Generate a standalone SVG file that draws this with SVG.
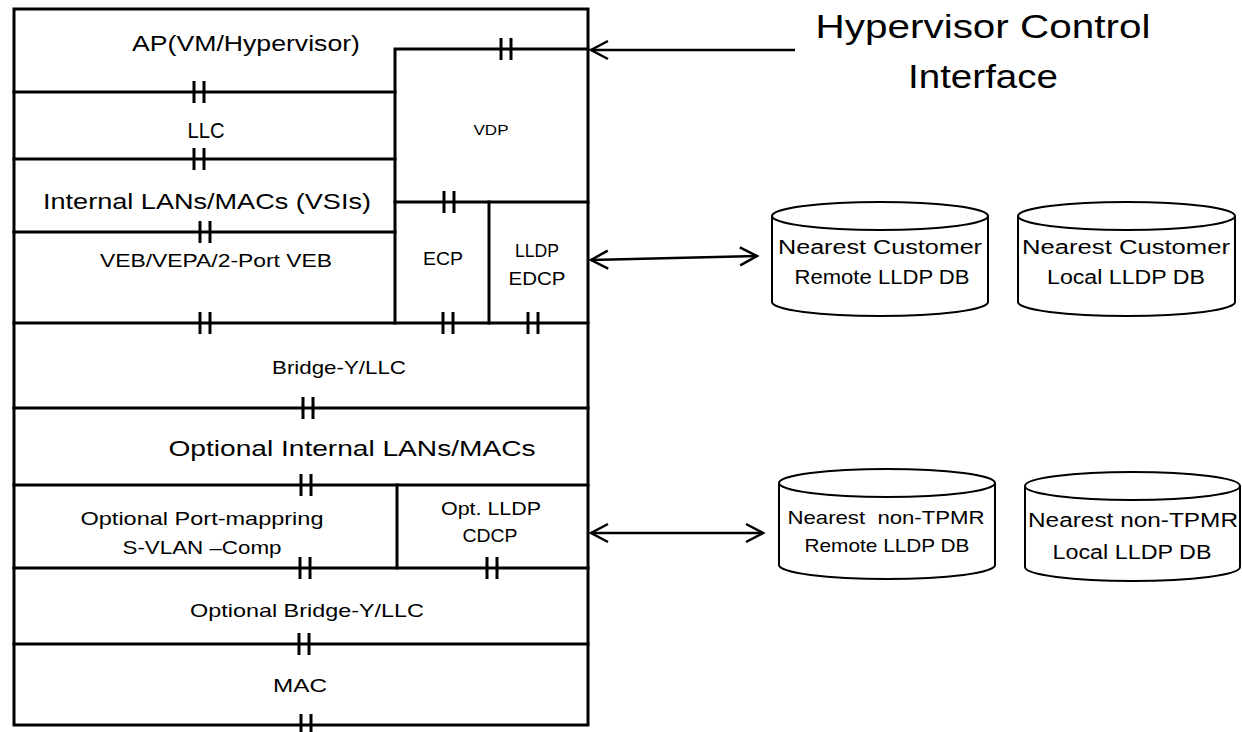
<svg xmlns="http://www.w3.org/2000/svg" xmlns:xlink="http://www.w3.org/1999/xlink" width="1242" height="732" viewBox="0 0 1242 732">
<style>
.ln{stroke:#000;stroke-width:3;fill:none;stroke-linecap:square}
.thin{stroke:#000;stroke-width:2.5;fill:none}
.cyl{stroke:#000;stroke-width:2;fill:#fff}
.t{font-family:"Liberation Sans","DejaVu Sans",Arial,sans-serif;fill:#000;text-anchor:middle}
.big{font-size:22px}
.mid{font-size:19px}
.sm{font-size:15px}
.db{font-size:20px}
.hv{font-size:33px}
.arr{stroke:#000;stroke-width:2.5;fill:none}
</style>
<defs>
<marker id="open" viewBox="-20 -12 24 24" refX="0" refY="0" markerWidth="24" markerHeight="24" markerUnits="userSpaceOnUse" orient="auto-start-reverse" overflow="visible">
<path d="M -17 -9 L 0 0 L -17 9" fill="none" stroke="#000" stroke-width="2.5"/>
</marker>
<g id="tick"><line x1="-5" y1="-11" x2="-5" y2="11" stroke="#000" stroke-width="3"/><line x1="5" y1="-11" x2="5" y2="11" stroke="#000" stroke-width="3"/></g>
</defs>
<rect width="1242" height="732" fill="#fff"/>

<g id="frame">
<rect class="ln" x="14" y="9" width="574" height="716"/>
<line class="ln" x1="14" y1="92" x2="395" y2="92"/>
<line class="ln" x1="14" y1="159" x2="395" y2="159"/>
<line class="ln" x1="14" y1="232" x2="395" y2="232"/>
<polyline class="ln" points="588,49 395,49 395,323"/>
<line class="ln" x1="395" y1="202" x2="588" y2="202"/>
<line class="ln" x1="489" y1="202" x2="489" y2="323"/>
<line class="ln" x1="14" y1="323" x2="588" y2="323"/>
<line class="ln" x1="14" y1="408" x2="588" y2="408"/>
<line class="ln" x1="14" y1="485" x2="588" y2="485"/>
<line class="ln" x1="397" y1="485" x2="397" y2="568"/>
<line class="ln" x1="14" y1="568" x2="588" y2="568"/>
<line class="ln" x1="14" y1="644" x2="588" y2="644"/>
</g>

<g id="ap"><text class="t big" x="246" y="51" textLength="228" lengthAdjust="spacingAndGlyphs">AP(VM/Hypervisor)</text></g>
<g id="llc"><text class="t big" x="206" y="138" textLength="37" lengthAdjust="spacingAndGlyphs">LLC</text></g>
<g id="vdp"><text class="t sm" x="491" y="135" textLength="35" lengthAdjust="spacingAndGlyphs">VDP</text></g>
<g id="internal"><text class="t big" x="207" y="209" textLength="328" lengthAdjust="spacingAndGlyphs">Internal LANs/MACs (VSIs)</text></g>
<g id="ecp"><text class="t mid" x="443" y="265" textLength="40" lengthAdjust="spacingAndGlyphs">ECP</text></g>
<g id="lldp-edcp"><text class="t mid" x="537" y="257" textLength="44" lengthAdjust="spacingAndGlyphs">LLDP</text><text class="t mid" x="537" y="285" textLength="57" lengthAdjust="spacingAndGlyphs">EDCP</text></g>
<g id="veb"><text class="t mid" x="216" y="267" textLength="232" lengthAdjust="spacingAndGlyphs">VEB/VEPA/2-Port VEB</text></g>
<g id="bridge"><text class="t mid" x="339" y="374" textLength="134" lengthAdjust="spacingAndGlyphs">Bridge-Y/LLC</text></g>
<g id="opt-internal"><text class="t big" x="352" y="456" textLength="367" lengthAdjust="spacingAndGlyphs">Optional Internal LANs/MACs</text></g>
<g id="port-mapping"><text class="t mid" x="202" y="525" textLength="243" lengthAdjust="spacingAndGlyphs">Optional Port-mappring</text><text class="t mid" x="202" y="554" textLength="159" lengthAdjust="spacingAndGlyphs">S-VLAN –Comp</text></g>
<g id="opt-lldp"><text class="t mid" x="491" y="515" textLength="100" lengthAdjust="spacingAndGlyphs">Opt. LLDP</text><text class="t mid" x="490" y="542" textLength="55" lengthAdjust="spacingAndGlyphs">CDCP</text></g>
<g id="opt-bridge"><text class="t mid" x="307" y="617" textLength="234" lengthAdjust="spacingAndGlyphs">Optional Bridge-Y/LLC</text></g>
<g id="mac"><text class="t mid" x="300" y="692" textLength="54" lengthAdjust="spacingAndGlyphs">MAC</text></g>

<g id="hypervisor-ctrl"><text class="t hv" x="983" y="38" textLength="335" lengthAdjust="spacingAndGlyphs">Hypervisor Control</text><text class="t hv" x="983" y="88" textLength="150" lengthAdjust="spacingAndGlyphs">Interface</text></g>

<g id="db-cust-remote">
<path class="cyl" d="M772 216 L772 302 A108 14 0 0 0 988 302 L988 216"/>
<ellipse class="cyl" cx="880" cy="216" rx="108" ry="14"/>
<text class="t db" x="880" y="254" textLength="204" lengthAdjust="spacingAndGlyphs">Nearest Customer</text>
<text class="t db" x="882" y="284" textLength="175" lengthAdjust="spacingAndGlyphs">Remote LLDP DB</text>
</g>
<g id="db-cust-local">
<path class="cyl" d="M1018 216 L1018 302 A108.5 14 0 0 0 1235 302 L1235 216"/>
<ellipse class="cyl" cx="1126.5" cy="216" rx="108.5" ry="14"/>
<text class="t db" x="1126" y="254" textLength="208" lengthAdjust="spacingAndGlyphs">Nearest Customer</text>
<text class="t db" x="1126" y="284" textLength="158" lengthAdjust="spacingAndGlyphs">Local LLDP DB</text>
</g>
<g id="db-tpmr-remote">
<path class="cyl" d="M779 483 L779 565 A108 14 0 0 0 995 565 L995 483"/>
<ellipse class="cyl" cx="887" cy="483" rx="108" ry="14"/>
<text class="t mid" x="886" y="524" textLength="197" lengthAdjust="spacingAndGlyphs" xml:space="preserve">Nearest  non-TPMR</text>
<text class="t mid" x="887" y="552" textLength="165" lengthAdjust="spacingAndGlyphs">Remote LLDP DB</text>
</g>
<g id="db-tpmr-local">
<path class="cyl" d="M1025 486 L1025 567 A107.5 14 0 0 0 1240 567 L1240 486"/>
<ellipse class="cyl" cx="1132.5" cy="486" rx="107.5" ry="14"/>
<text class="t db" x="1133" y="527" textLength="210" lengthAdjust="spacingAndGlyphs">Nearest non-TPMR</text>
<text class="t db" x="1132" y="559" textLength="159" lengthAdjust="spacingAndGlyphs">Local LLDP DB</text>
</g>

<g id="connectors">
<line class="arr" x1="795" y1="50" x2="591" y2="50" marker-end="url(#open)"/>
<line class="arr" x1="591" y1="260" x2="757" y2="256" marker-start="url(#open)" marker-end="url(#open)"/>
<line class="arr" x1="591" y1="533" x2="763" y2="533" marker-start="url(#open)" marker-end="url(#open)"/>
<use xlink:href="#tick" x="199" y="92"/>
<use xlink:href="#tick" x="199" y="159"/>
<use xlink:href="#tick" x="205" y="232"/>
<use xlink:href="#tick" x="506" y="49"/>
<use xlink:href="#tick" x="449" y="202"/>
<use xlink:href="#tick" x="205" y="323"/>
<use xlink:href="#tick" x="448" y="323"/>
<use xlink:href="#tick" x="533" y="323"/>
<use xlink:href="#tick" x="308" y="408"/>
<use xlink:href="#tick" x="306" y="485"/>
<use xlink:href="#tick" x="305" y="568"/>
<use xlink:href="#tick" x="492" y="568"/>
<use xlink:href="#tick" x="304" y="644"/>
<use xlink:href="#tick" x="306" y="725"/>
</g>
</svg>
